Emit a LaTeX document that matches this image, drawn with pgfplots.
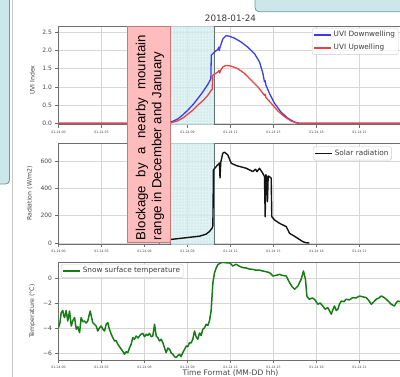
\documentclass[border=0pt]{standalone}
\usepackage{pgfplots}
\pgfplotsset{compat=1.18}
\usepackage{fontspec}
\setmainfont{DejaVu Sans}
\newfontfamily\arial{Liberation Sans}
\usetikzlibrary{patterns}

\definecolor{uvblue}{RGB}{60,60,235}
\definecolor{uvred}{RGB}{232,66,66}
\definecolor{tgreen}{RGB}{22,125,22}
\definecolor{radblack}{RGB}{20,20,20}
\definecolor{gridgray}{RGB}{214,214,214}
\definecolor{axisgray}{RGB}{110,110,110}
\definecolor{labgray}{RGB}{70,70,70}
\definecolor{legtext}{RGB}{60,60,60}
\definecolor{legdraw}{RGB}{204,204,204}
\definecolor{cyanfill}{RGB}{214,238,240}
\definecolor{cyandot}{RGB}{140,190,196}
\definecolor{cyanedge}{RGB}{95,115,118}
\definecolor{pinkfill}{RGB}{255,188,188}
\definecolor{pinkedge}{RGB}{200,120,120}
\definecolor{tealfill}{RGB}{204,231,233}
\definecolor{tealedge}{RGB}{110,150,155}
\definecolor{framegray}{RGB}{200,200,200}

\pgfplotsset{
  myax/.style={
    scale only axis, width=344pt, xmin=0, xmax=24,
    xtick={0,3,6,9,12,15,18,21},
    xticklabels={01-24 00,01-24 03,01-24 06,01-24 09,01-24 12,01-24 15,01-24 18,01-24 21},
    grid=major, major grid style={gridgray, line width=0.6pt},
    tick align=outside, tick pos=left, major tick length=3pt,
    axis line style={axisgray, line width=0.7pt},
    every tick/.style={axisgray, line width=0.6pt},
    /pgf/number format/assume math mode=true,
    yticklabel style={font=\fontsize{6}{7}\selectfont, text=labgray},
    xticklabel style={font=\fontsize{3.2}{3.8}\selectfont, text=labgray},
    every axis y label/.style={at={(axis description cs:-0.076,0.5)}, rotate=90, anchor=center, font=\fontsize{6.2}{7}\selectfont, text=labgray},
    every axis x label/.style={at={(axis description cs:0.5,0)}, anchor=north, yshift=-9.5pt, inner sep=0pt, font=\fontsize{7.6}{9}\selectfont, text=labgray},
    every axis title/.style={at={(axis description cs:0.5,1)}, anchor=base, yshift=5pt, font=\fontsize{8.8}{10}\selectfont, text=labgray!80!black},
    legend style={draw=legdraw, fill=white, fill opacity=0.8, text opacity=1, rounded corners=1.5pt,
      font=\fontsize{7.3}{8.5}\selectfont, text=legtext, inner sep=1.2pt, row sep=2pt},
    legend cell align=left,
    legend image code/.code={\draw[#1] (0pt,0pt) -- (17pt,0pt);},
    shade/.style={forget plot, draw=cyanedge, line width=0.5pt, fill=cyanfill, fill opacity=0.75,
      postaction={pattern=dots, pattern color=cyandot}},
  }
}

\begin{document}
\begin{tikzpicture}
\useasboundingbox (0pt,0pt) rectangle (400pt,376pt);
\clip (0pt,0pt) rectangle (400pt,376pt);
% poster elements
\draw[draw=tealedge, fill=tealfill, line width=0.8pt, rounded corners=4pt] (-6pt,382pt) rectangle (9.5pt,192pt);
\draw[framegray, line width=1pt] (12.5pt,-2pt) -- (12.5pt,378pt);
\draw[draw=tealedge, fill=tealfill, line width=0.8pt, rounded corners=4pt] (255pt,364.3pt) rectangle (406pt,382pt);

% ---------- UVI ----------
\begin{axis}[myax, at={(58.5pt,251.5pt)}, anchor=south west, height=98.5pt,
  ymin=-0.033, ymax=2.673, ytick={0,0.5,1,1.5,2,2.5},
  yticklabels={0.0,0.5,1.0,1.5,2.0,2.5},
  ylabel={UVI Index}, ylabel style={at={(axis description cs:-0.076,0.45)}},
  title={2018-01-24},
  legend style={at={(0.737,0.98)}, anchor=north west}]
\addplot[shade] coordinates {(7.77,-0.1) (7.77,2.8) (10.85,2.8) (10.85,-0.1)} -- cycle;
\addplot[uvblue, line width=1.3pt, line join=round] coordinates {
(0,0) (7.6,0) (7.75,0.02) (8.0,0.06) (8.33,0.12) (8.7,0.24) (9.02,0.36) (9.4,0.52) (9.72,0.68)
(10.1,0.88) (10.42,1.07) (10.6,1.2) (10.63,1.23) (10.66,1.87) (10.89,1.96) (11.12,2.03) (11.18,2.09)
(11.22,2.0) (11.26,2.08) (11.47,2.32) (11.7,2.41) (11.93,2.39) (12.28,2.34) (12.75,2.23) (13.21,2.09)
(13.68,1.91) (14.03,1.68) (14.26,1.37) (14.37,1.14) (14.42,1.17) (14.47,1.05) (14.72,0.82) (15.07,0.55)
(15.54,0.3) (16.0,0.14) (16.47,0.03) (16.82,0) (24,0)};
\addlegendentry{UVI Downwelling}
\addplot[uvred, line width=1.3pt, line join=round] coordinates {
(0,0) (7.6,0) (7.9,0.02) (8.33,0.07) (8.7,0.15) (9.02,0.25) (9.4,0.37) (9.72,0.5) (10.1,0.63)
(10.42,0.77) (10.66,0.91) (10.72,0.93) (10.77,1.32) (11.12,1.41) (11.2,1.45) (11.25,1.38) (11.3,1.45)
(11.47,1.55) (11.7,1.59) (12.05,1.57) (12.51,1.5) (12.98,1.37) (13.45,1.18) (13.91,1.0) (14.37,0.77)
(14.42,0.8) (14.47,0.71) (14.84,0.55) (15.3,0.34) (15.77,0.18) (16.24,0.06) (16.7,0) (24,0)};
\addlegendentry{UVI Upwelling}
\end{axis}

% ---------- Radiation ----------
\begin{axis}[myax, at={(58.5pt,132pt)}, anchor=south west, height=101pt,
  ymin=-7.3, ymax=732, ytick={0,200,400,600},
  ylabel={Radiation (W/m2)}, ylabel style={at={(axis description cs:-0.084,0.5)}},
  legend style={at={(0.74,0.965)}, anchor=north west}]
\addplot[shade] coordinates {(7.77,-30) (7.77,800) (10.85,800) (10.85,-30)} -- cycle;
\addplot[radblack, line width=1.4pt, line join=round] coordinates {
(7.0,0) (7.26,18) (8.0,28) (9.0,40) (9.84,50) (10.3,65) (10.54,85) (10.72,110) (10.77,125) (10.81,535)
(11.0,559) (11.23,586) (11.27,476) (11.32,590) (11.46,657) (11.58,665) (11.81,645) (12.05,584) (12.4,567)
(13.1,547) (13.56,523) (13.75,540) (13.85,522) (14.02,547) (14.25,511) (14.37,486) (14.42,193) (14.47,500)
(14.53,474) (14.58,303) (14.63,490) (14.72,486) (14.84,474) (14.88,193) (15.07,169) (15.42,144) (15.89,120)
(16.12,71) (16.58,42) (17.04,10) (17.28,2) (17.5,0)};
\addlegendentry{Solar radiation}
\end{axis}

% ---------- Temperature ----------
\begin{axis}[myax, at={(58.5pt,16pt)}, anchor=south west, height=98pt,
  ymin=-6.56, ymax=1.28, ytick={-6,-4,-2,0}, yticklabels={−6,−4,−2,0},
  ylabel={Temperature (°C)},
  xlabel={Time Format (MM-DD hh)},
  legend style={at={(0.007,0.98)}, anchor=north west}]
\addplot[tgreen, line width=1.5pt, line join=round] coordinates {
(0,-3.97) (0.1,-3.6) (0.19,-2.77) (0.3,-2.6) (0.36,-3.0) (0.42,-3.17) (0.54,-2.6) (0.6,-3.1) (0.65,-3.44) (0.77,-2.64) (0.89,-3.84)
(1.0,-3.4) (1.12,-3.17) (1.24,-4.1) (1.35,-3.9) (1.47,-4.37) (1.58,-3.17) (1.7,-3.5) (1.81,-3.44) (1.93,-3.6) (2.04,-3.44) (2.21,-2.64) (2.39,-3.57)
(2.5,-3.7) (2.63,-3.84) (2.74,-4.24) (2.85,-4.0) (2.98,-3.84) (3.1,-4.1) (3.21,-4.24) (3.33,-3.7) (3.44,-3.57) (3.55,-4.1) (3.68,-4.5) (3.8,-4.8) (3.91,-5.04)
(4.02,-5.0) (4.14,-5.3) (4.26,-5.5) (4.38,-5.7) (4.5,-5.9) (4.6,-6.1) (4.72,-5.9) (4.84,-5.97) (4.95,-5.6) (5.07,-5.3) (5.18,-4.77) (5.3,-4.9) (5.42,-4.64) (5.55,-4.8) (5.65,-4.64)
(5.75,-4.5) (5.88,-4.43) (6.0,-4.7) (6.12,-4.5) (6.23,-4.6) (6.35,-4.43) (6.47,-4.7) (6.58,-4.64) (6.7,-3.7) (6.82,-4.64) (6.94,-4.8) (7.05,-5.04) (7.17,-4.9) (7.28,-5.17)
(7.4,-5.6) (7.51,-5.97) (7.63,-5.6) (7.75,-5.7) (7.87,-6.0) (7.98,-6.1) (8.1,-6.3) (8.21,-6.37) (8.33,-6.2) (8.44,-6.1) (8.55,-6.3) (8.67,-5.97) (8.8,-5.7) (8.91,-5.44) (9.02,-5.5) (9.14,-5.17)
(9.25,-5.2) (9.37,-4.9) (9.49,-4.24) (9.6,-4.7) (9.72,-4.9) (9.84,-4.4) (9.95,-4.6) (10.07,-4.1) (10.18,-4.0) (10.3,-3.7) (10.42,-3.8) (10.54,-3.4) (10.65,-2.6)
(10.77,-0.4) (10.88,0.4) (11.0,0.8) (11.12,1.07) (11.3,1.2) (11.46,1.25) (11.7,1.22) (11.93,1.2) (12.05,1.1) (12.16,0.96) (12.4,1.1) (12.6,0.95) (12.86,0.83)
(13.1,0.8) (13.3,0.72) (13.56,0.69) (13.8,0.62) (14.0,0.64) (14.25,0.56) (14.5,0.5) (14.72,0.43) (14.85,0.3) (14.95,0.16) (15.2,0.22) (15.42,0.29) (15.65,0.2) (15.89,0.16) (16.0,-0.1) (16.12,-0.37) (16.3,-0.7) (16.47,-0.9)
(16.7,-0.64) (16.93,-0.1) (17.09,0.56) (17.23,-0.1) (17.33,-1.44) (17.42,-1.6) (17.51,-1.7) (17.7,-1.6) (17.86,-1.7) (17.98,-1.9) (18.09,-2.1)
(18.25,-2.0) (18.44,-2.24) (18.6,-2.5) (18.79,-2.37) (18.9,-2.6) (19.03,-2.9) (19.15,-2.5) (19.26,-2.24) (19.38,-2.6) (19.49,-2.5) (19.6,-2.1) (19.73,-1.84) (19.9,-1.9) (20.07,-1.7)
(20.3,-1.75) (20.53,-1.57) (20.75,-1.6) (21.0,-1.44) (21.2,-1.5) (21.47,-1.57) (21.65,-1.8) (21.82,-2.1) (22.0,-1.9) (22.17,-1.7) (22.35,-1.6) (22.52,-1.44) (22.7,-1.55) (22.86,-1.7)
(23.05,-1.9) (23.21,-2.1) (23.44,-2.24) (23.55,-2.0) (23.67,-1.84) (23.85,-1.9) (24,-1.7)};
\addlegendentry{Snow surface temperature}
\end{axis}

% annotation box
\draw[draw=pinkedge, fill=pinkfill, line width=0.6pt] (127pt,134pt) rectangle (170pt,349.5pt);
\node[rotate=90, inner sep=0pt, align=left, font=\arial\fontsize{13.2}{16}\selectfont, text=black]
  at (150pt,238.5pt) {\makebox[205pt][s]{Blockage by a nearby mountain}\\range in December and January};
\end{tikzpicture}
\end{document}
